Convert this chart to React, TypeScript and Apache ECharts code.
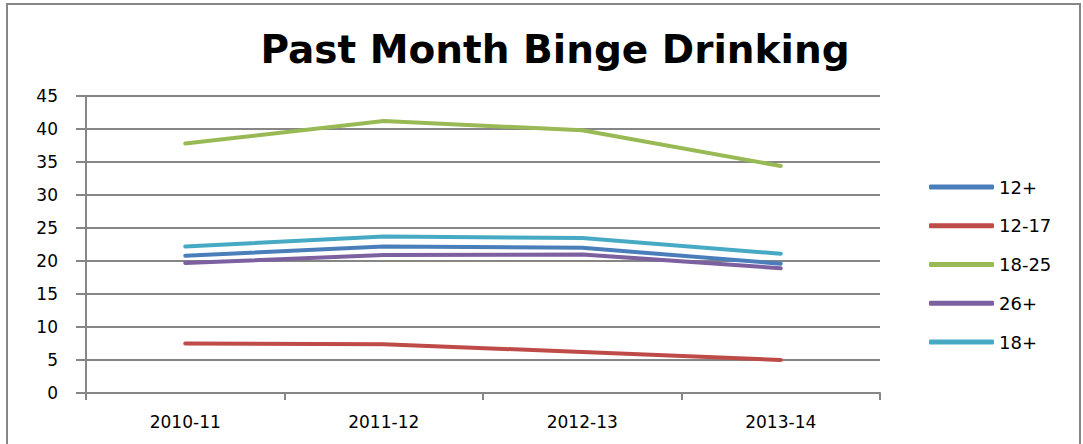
import React, { useEffect, useRef } from "react";
import * as echarts from "echarts";

const categories = ["2010-11", "2011-12", "2012-13", "2013-14"];
const seriesNames = ["12+", "12-17", "18-25", "26+", "18+"];
const s12plus = [20.8, 22.2, 22.0, 19.6];
const s12to17 = [7.5, 7.4, 6.2, 5.0];
const s18to25 = [37.8, 41.2, 39.8, 34.4];
const s26plus = [19.7, 20.9, 21.0, 18.9];
const s18plus = [22.2, 23.7, 23.5, 21.1];
const colors = ["#4A7EBB", "#BE4B48", "#98B954", "#7D60A0", "#46AAC5"];

export default function App() {
  const ref = useRef<HTMLDivElement>(null);
  useEffect(() => {
    if (!ref.current) return;
    const chart = echarts.init(ref.current, undefined, { renderer: "svg" });
    const data = [s12plus, s12to17, s18to25, s26plus, s18plus];
    const font = "'DejaVu Sans', 'Liberation Sans', sans-serif";
    chart.setOption({
      animation: false,
      backgroundColor: "#ffffff",
      title: {
        text: "Past Month Binge Drinking",
        left: 550,
        textAlign: "center",
        top: 25,
        textStyle: { fontFamily: font, fontWeight: "bold", fontSize: 39, color: "#000" },
      },
      graphic: [
        {
          type: "rect",
          shape: { x: 7, y: 4, width: 1073, height: 460 },
          style: { fill: "none", stroke: "#868686", lineWidth: 2 },
          silent: true,
        },
      ],
      legend: {
        orient: "vertical",
        left: 924,
        top: 173,
        itemWidth: 65,
        itemHeight: 5,
        itemGap: 20.75,
        icon: "roundRect",
        data: seriesNames,
        textStyle: { fontFamily: font, fontSize: 18, lineHeight: 18, color: "#000" },
      },
      grid: { left: 86, right: 203, top: 96, bottom: 51 },
      xAxis: {
        type: "category",
        data: categories,
        boundaryGap: true,
        axisLine: { lineStyle: { color: "#868686", width: 2 } },
        axisTick: { show: true, length: 7, lineStyle: { color: "#868686", width: 2 } },
        axisLabel: { fontFamily: font, fontSize: 17, color: "#000", margin: 20 },
      },
      yAxis: {
        type: "value",
        min: 0,
        max: 45,
        interval: 5,
        axisLine: { show: true, lineStyle: { color: "#868686", width: 2 } },
        axisTick: { show: true, length: 10, lineStyle: { color: "#868686", width: 2 } },
        splitLine: { lineStyle: { color: "#868686", width: 2 } },
        axisLabel: { fontFamily: font, fontSize: 17, color: "#000", margin: 28 },
      },
      series: seriesNames.map((n, i) => ({
        name: n,
        type: "line",
        data: data[i],
        symbol: "none",
        color: colors[i],
        lineStyle: { width: 4, color: colors[i], cap: "round", join: "round" },
      })),
    });
    return () => chart.dispose();
  }, []);
  return <div ref={ref} style={{ width: 1083, height: 444, position: "absolute", left: 0, top: 0 }} />;
}
